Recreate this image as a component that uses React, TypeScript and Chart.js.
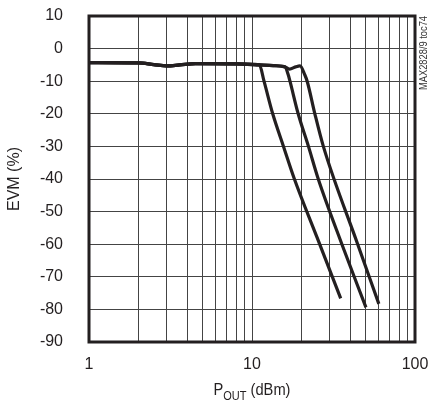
import React, { useEffect, useRef } from "react";
import { Chart, registerables } from "chart.js";

Chart.register(...registerables);

// Axis definitions
const xGridValues = [1, 2, 3, 4, 5, 6, 7, 8, 9, 10, 20, 30, 40, 50, 60, 70, 80, 90, 100];
const xLabelValues = [1, 10, 100];
const yMin = -90;
const yMax = 10;
const yStep = 10;

// Series (POUT in dBm on log axis, EVM in %)
const curve1X = [1, 2, 2.5, 3, 3.6, 4.5, 8, 11.1, 11.85, 13.4, 15.6, 18.2, 25.1, 35];
const curve1Y = [-4.3, -4.4, -4.9, -5.3, -5.0, -4.6, -4.7, -5.0, -10, -20, -30, -40, -58, -76.6];

const curve2X = [1, 2, 2.5, 3, 3.6, 4.5, 8, 11.1, 13.5, 15.9, 16.7, 17.1, 19.2, 22.2, 25.5, 35.6, 50];
const curve2Y = [-4.3, -4.4, -4.9, -5.3, -5.0, -4.6, -4.7, -5.0, -5.2, -5.6, -8.1, -10, -20, -30, -40, -60, -79.4];

const curve3X = [1, 2, 2.5, 3, 3.6, 4.5, 8, 11.1, 13.5, 15.9, 17.0, 18.5, 19.7, 21.1, 21.8, 24.3, 27.4, 44.5, 60];
const curve3Y = [-4.3, -4.4, -4.9, -5.3, -5.0, -4.6, -4.7, -5.0, -5.2, -5.6, -6.3, -5.6, -5.3, -8.1, -10, -20, -30, -60, -78.3];

const xTitleMain = "P";
const xTitleSub = "OUT";
const xTitleRest = " (dBm)";
const yTitle = "EVM (%)";
const noteText = "MAX2828/9 toc74";

const FONT = "'Liberation Sans Narrow', 'Arial Narrow', 'Liberation Sans', sans-serif";
const INK = "#231f20";

const toPoints = (xs: number[], ys: number[]) => xs.map((x, i) => ({ x, y: ys[i] }));

const framePlugin = {
  id: "framePlugin",
  afterDatasetsDraw(chart: any) {
    const { ctx, chartArea } = chart;
    ctx.save();
    ctx.strokeStyle = INK;
    ctx.lineWidth = 3;
    ctx.strokeRect(chartArea.left, chartArea.top, chartArea.right - chartArea.left, chartArea.bottom - chartArea.top);
    ctx.restore();
  },
  afterDraw(chart: any) {
    const { ctx, chartArea } = chart;
    ctx.save();
    // x-axis title with subscript (condensed to mimic a narrow face)
    ctx.fillStyle = INK;
    ctx.textBaseline = "alphabetic";
    ctx.textAlign = "left";
    const big = `16px ${FONT}`;
    const small = `12px ${FONT}`;
    ctx.font = big;
    const w1 = ctx.measureText(xTitleMain).width;
    const w3 = ctx.measureText(xTitleRest).width;
    ctx.font = small;
    const w2 = ctx.measureText(xTitleSub).width;
    const total = w1 + w2 + w3;
    const squeeze = Math.min(1, 77 / total);
    const cx = (chartArea.left + chartArea.right) / 2;
    const baseY = 395;
    ctx.translate(cx - (total * squeeze) / 2, baseY);
    ctx.scale(squeeze, 1);
    let x = 0;
    ctx.font = big;
    ctx.fillText(xTitleMain, x, 0);
    x += w1;
    ctx.font = small;
    ctx.fillText(xTitleSub, x, 5);
    x += w2;
    ctx.font = big;
    ctx.fillText(xTitleRest, x, 0);
    ctx.restore();

    // rotated note on right
    ctx.save();
    ctx.translate(chartArea.right + 9, chartArea.top);
    ctx.rotate(-Math.PI / 2);
    ctx.font = `10px ${FONT}`;
    const nw = ctx.measureText(noteText).width;
    ctx.scale(Math.min(1, 74 / nw), 1);
    ctx.fillStyle = "#333";
    ctx.textAlign = "right";
    ctx.textBaseline = "middle";
    ctx.fillText(noteText, 0, 0);
    ctx.restore();
  },
};

export default function App() {
  const canvasRef = useRef<HTMLCanvasElement | null>(null);

  useEffect(() => {
    if (!canvasRef.current) return;
    const lineStyle = {
      borderColor: INK,
      borderWidth: 3.2,
      pointRadius: 0,
      fill: false,
      cubicInterpolationMode: "monotone" as const,
    };
    const chart = new Chart(canvasRef.current, {
      type: "line",
      data: {
        datasets: [
          { label: "A", data: toPoints(curve1X, curve1Y), ...lineStyle },
          { label: "B", data: toPoints(curve2X, curve2Y), ...lineStyle },
          { label: "C", data: toPoints(curve3X, curve3Y), ...lineStyle },
        ],
      },
      options: {
        responsive: false,
        animation: false,
        layout: { padding: { top: 16, right: 15, left: 0, bottom: 0 } },
        plugins: { legend: { display: false }, tooltip: { enabled: false } },
        scales: {
          x: {
            type: "logarithmic",
            min: 1,
            max: 100,
            afterBuildTicks: (scale: any) => {
              scale.ticks = xGridValues.map((v) => ({ value: v, major: xLabelValues.includes(v) }));
            },
            afterFit: (scale: any) => {
              scale.height = 58;
              scale.paddingLeft = 0;
              scale.paddingRight = 0;
            },
            ticks: {
              autoSkip: false,
              maxRotation: 0,
              padding: 13,
              color: INK,
              font: { family: FONT, size: 16 },
              callback: (v: any) => (xLabelValues.includes(Number(v)) ? String(v) : ""),
            },
            grid: { color: "#444", lineWidth: 1, drawTicks: false },
            border: { display: false },
          },
          y: {
            type: "linear",
            min: yMin,
            max: yMax,
            afterFit: (scale: any) => {
              scale.width = 89;
              scale.paddingTop = 0;
              scale.paddingBottom = 0;
            },
            ticks: {
              stepSize: yStep,
              padding: 26,
              color: INK,
              font: { family: FONT, size: 16 },
            },
            title: {
              display: true,
              text: yTitle,
              color: INK,
              font: { family: FONT, size: 16 },
              padding: { top: 5, bottom: 0 },
            },
            grid: { color: "#444", lineWidth: 1, drawTicks: false },
            border: { display: false },
          },
        },
      },
      plugins: [framePlugin],
    });
    return () => chart.destroy();
  }, []);

  return (
    <div style={{ position: "absolute", left: 0, top: 0, width: 430, height: 400 }}>
      <canvas ref={canvasRef} width={430} height={400} />
    </div>
  );
}
